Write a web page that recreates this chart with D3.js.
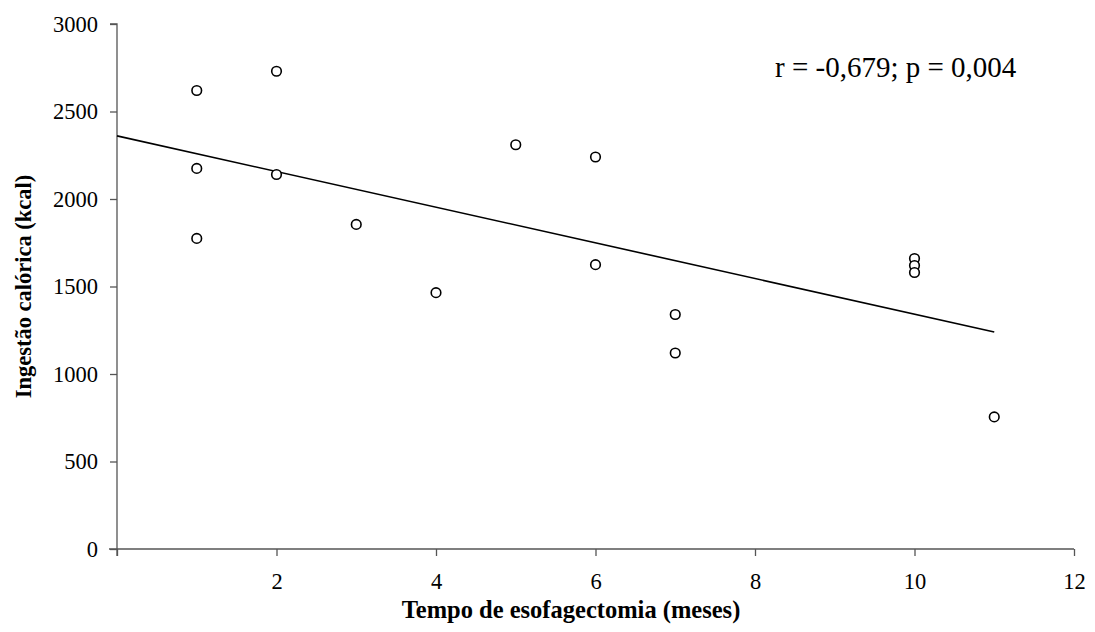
<!DOCTYPE html>
<html>
<head>
<meta charset="utf-8">
<script src="https://cdn.jsdelivr.net/npm/d3@7"></script>
<style>
  body { margin: 0; background: #fff; }
  text { font-family: "Liberation Serif", "Times New Roman", serif; fill: #000; }
</style>
</head>
<body>
<div id="viz"></div>
<script>
// months since esophagectomy and caloric intake (kcal)
const meses = [1, 1, 1, 2, 2, 3, 4, 5, 6, 6, 7, 7, 10, 10, 10, 11];
const kcal = [2620, 2175, 1775, 2730, 2140, 1855, 1465, 2310, 2240, 1625, 1340, 1120, 1660, 1620, 1580, 755];
const xTicks = [0, 2, 4, 6, 8, 10, 12];
const yTicks = [0, 500, 1000, 1500, 2000, 2500, 3000];
const annotation = "r = -0,679; p = 0,004";

const width = 1095;
const height = 632;
const margin = { top: 24, right: 20, bottom: 83, left: 117 };
const serif = '"Liberation Serif", "Times New Roman", serif';

const svg = d3.select("#viz")
  .append("svg")
  .attr("width", width)
  .attr("height", height);

const x = d3.scaleLinear().domain([0, 12]).range([margin.left, 1074]);
const y = d3.scaleLinear().domain([0, 3000]).range([height - margin.bottom, margin.top]);

const axisColor = "#555";

// x axis
const gx = svg.append("g")
  .attr("transform", `translate(0,${y(0)})`)
  .call(d3.axisBottom(x).tickValues(xTicks).tickSize(7).tickPadding(17)
    .tickFormat(d => d === 0 ? "" : d3.format("d")(d)));
gx.attr("font-family", serif).attr("font-size", 22.5);
gx.selectAll("text").attr("font-family", serif).attr("font-size", 22.5);
gx.select(".domain").attr("stroke", axisColor).attr("stroke-width", 1.3)
  .attr("d", `M${x(0) - 8},0H${x(12)}`);
gx.selectAll(".tick line").attr("stroke", axisColor).attr("stroke-width", 1.3);

// y axis
const gy = svg.append("g")
  .attr("transform", `translate(${x(0)},0)`)
  .call(d3.axisLeft(y).tickValues(yTicks).tickSize(7).tickPadding(12)
    .tickFormat(d3.format("d")));
gy.attr("font-family", serif).attr("font-size", 22.5);
gy.selectAll("text").attr("font-family", serif).attr("font-size", 22.5);
gy.select(".domain").attr("stroke", axisColor).attr("stroke-width", 1.3)
  .attr("d", `M0,${y(0) + 7}V${y(3000)}H-7`);
gy.selectAll(".tick line").attr("stroke", axisColor).attr("stroke-width", 1.3);

// least-squares trend line
const mx = d3.mean(meses), my = d3.mean(kcal);
const sxy = d3.sum(meses, (d, i) => (d - mx) * (kcal[i] - my));
const sxx = d3.sum(meses, d => (d - mx) * (d - mx));
const slope = sxy / sxx;
const intercept = my - slope * mx;
const xMax = d3.max(meses);

svg.append("line")
  .attr("x1", x(0)).attr("y1", y(intercept))
  .attr("x2", x(xMax)).attr("y2", y(intercept + slope * xMax))
  .attr("stroke", "#000")
  .attr("stroke-width", 1.6);

// points
svg.append("g")
  .selectAll("circle")
  .data(meses.map((m, i) => ({ m, k: kcal[i] })))
  .enter().append("circle")
  .attr("cx", d => x(d.m))
  .attr("cy", d => y(d.k))
  .attr("r", 4.8)
  .attr("fill", "#fff")
  .attr("stroke", "#000")
  .attr("stroke-width", 1.6);

// annotation
svg.append("text")
  .attr("x", 775)
  .attr("y", 77)
  .style("font-size", "29px")
  .text(annotation);

// axis titles
svg.append("text")
  .attr("x", 571)
  .attr("y", 618)
  .attr("text-anchor", "middle")
  .style("font-size", "24.5px")
  .attr("font-weight", "bold")
  .text("Tempo de esofagectomia (meses)");

svg.append("text")
  .attr("transform", `translate(31,${(y(0) + y(3000)) / 2}) rotate(-90)`)
  .attr("text-anchor", "middle")
  .style("font-size", "22.5px")
  .attr("font-weight", "bold")
  .text("Ingestão calórica (kcal)");
</script>
</body>
</html>
